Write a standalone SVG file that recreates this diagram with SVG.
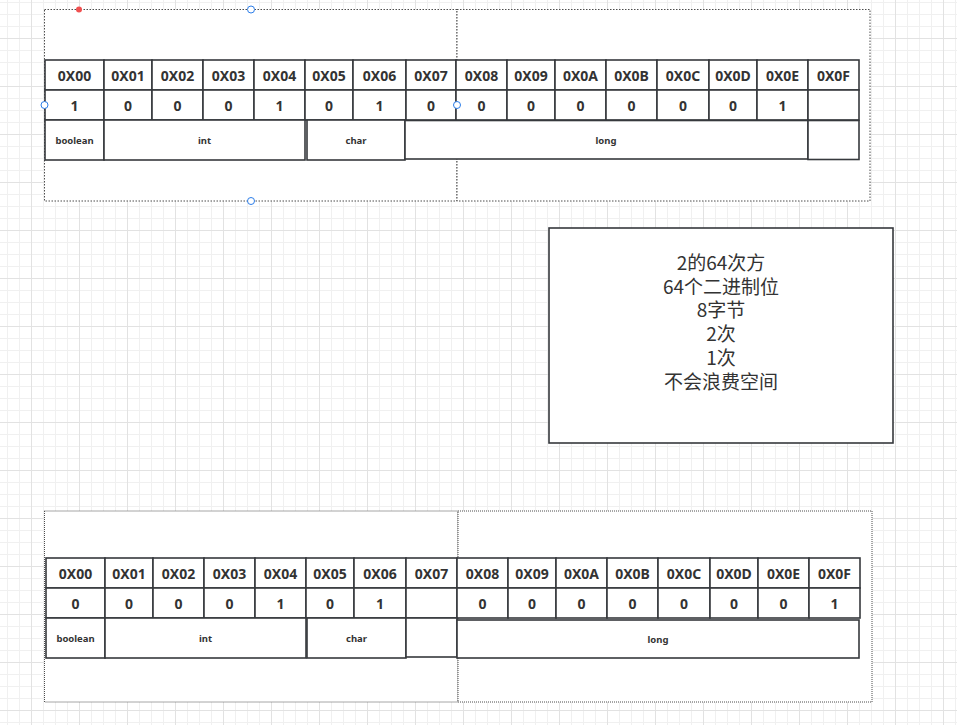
<svg xmlns="http://www.w3.org/2000/svg" width="957" height="725" viewBox="0 0 957 725">
<style>
.c{fill:#fff;stroke:#36393d;stroke-width:1.6}
.cont{fill:#fff;stroke:#4d4d4d;stroke-width:1;stroke-dasharray:1.5 1.5}
.cont2{fill:#fff;stroke:#4d4d4d;stroke-width:1;stroke-dasharray:1 1}
.h{font-family:"Noto Sans","Liberation Sans",sans-serif;font-weight:bold;font-size:14px;fill:#333;text-anchor:middle;dominant-baseline:central}
.t{font-family:"Noto Sans","Liberation Sans",sans-serif;font-weight:bold;font-size:9.5px;fill:#333;text-anchor:middle;dominant-baseline:central}
.n{font-family:"Noto Sans CJK SC","Noto Sans",sans-serif;font-size:19px;fill:#333;text-anchor:middle;dominant-baseline:central}
.hd{fill:#fff;stroke:#2b7de9;stroke-width:1}
</style>
<defs>
<pattern id="grid" patternUnits="userSpaceOnUse" x="31" y="38" width="48" height="48">
<rect x="0" y="0" width="48" height="48" fill="#fff"/>
<rect x="12" y="0" width="1" height="48" fill="#f0f0f0"/>
<rect x="24" y="0" width="1" height="48" fill="#f0f0f0"/>
<rect x="36" y="0" width="1" height="48" fill="#f0f0f0"/>
<rect x="0" y="12" width="48" height="1" fill="#f0f0f0"/>
<rect x="0" y="24" width="48" height="1" fill="#f0f0f0"/>
<rect x="0" y="36" width="48" height="1" fill="#f0f0f0"/>
<rect x="0" y="0" width="1" height="48" fill="#e2e2e2"/>
<rect x="0" y="0" width="48" height="1" fill="#e2e2e2"/>
</pattern>
</defs>
<rect x="0" y="0" width="957" height="725" fill="url(#grid)"/>

<g id="top-container-left"><rect class="cont" x="44.5" y="9.5" width="412.5" height="191.5"/></g>
<g id="top-container-right"><rect class="cont" x="457" y="9.5" width="413" height="191.5"/></g>
<g id="bottom-container-left"><rect class="cont2" x="44.5" y="511" width="413.5" height="191"/></g>
<g id="bottom-container-right"><rect class="cont2" x="458" y="511" width="414" height="191"/></g>

<g id="top-table">
<g id="t-h00"><rect class="c" x="45" y="60" width="59" height="30"/><text class="h" x="74.5" y="75">0X00</text></g>
<g id="t-h01"><rect class="c" x="104" y="60" width="48" height="30"/><text class="h" x="128" y="75">0X01</text></g>
<g id="t-h02"><rect class="c" x="152" y="60" width="51" height="30"/><text class="h" x="177.5" y="75">0X02</text></g>
<g id="t-h03"><rect class="c" x="203" y="60" width="51" height="30"/><text class="h" x="228.5" y="75">0X03</text></g>
<g id="t-h04"><rect class="c" x="254" y="60" width="51" height="30"/><text class="h" x="279.5" y="75">0X04</text></g>
<g id="t-h05"><rect class="c" x="305" y="60" width="48" height="30"/><text class="h" x="329" y="75">0X05</text></g>
<g id="t-h06"><rect class="c" x="353" y="60" width="53" height="30"/><text class="h" x="379.5" y="75">0X06</text></g>
<g id="t-h07"><rect class="c" x="406" y="60" width="50" height="30"/><text class="h" x="431" y="75">0X07</text></g>
<g id="t-h08"><rect class="c" x="456" y="60" width="51" height="30"/><text class="h" x="481.5" y="75">0X08</text></g>
<g id="t-h09"><rect class="c" x="507" y="60" width="48" height="30"/><text class="h" x="531" y="75">0X09</text></g>
<g id="t-h0A"><rect class="c" x="555" y="60" width="51" height="30"/><text class="h" x="580.5" y="75">0X0A</text></g>
<g id="t-h0B"><rect class="c" x="606" y="60" width="51" height="30"/><text class="h" x="631.5" y="75">0X0B</text></g>
<g id="t-h0C"><rect class="c" x="657" y="60" width="52" height="30"/><text class="h" x="683" y="75">0X0C</text></g>
<g id="t-h0D"><rect class="c" x="709" y="60" width="48" height="30"/><text class="h" x="733" y="75">0X0D</text></g>
<g id="t-h0E"><rect class="c" x="757" y="60" width="51" height="30"/><text class="h" x="782.5" y="75">0X0E</text></g>
<g id="t-h0F"><rect class="c" x="808" y="60" width="51" height="30"/><text class="h" x="833.5" y="75">0X0F</text></g>

<g id="t-v00"><rect class="c" x="45" y="90" width="59" height="30"/><text class="h" x="74.5" y="105">1</text></g>
<g id="t-v01"><rect class="c" x="104" y="90" width="48" height="30"/><text class="h" x="128" y="105">0</text></g>
<g id="t-v02"><rect class="c" x="152" y="90" width="51" height="30"/><text class="h" x="177.5" y="105">0</text></g>
<g id="t-v03"><rect class="c" x="203" y="90" width="51" height="30"/><text class="h" x="228.5" y="105">0</text></g>
<g id="t-v04"><rect class="c" x="254" y="90" width="51" height="30"/><text class="h" x="279.5" y="105">1</text></g>
<g id="t-v05"><rect class="c" x="305" y="90" width="48" height="30"/><text class="h" x="329" y="105">0</text></g>
<g id="t-v06"><rect class="c" x="353" y="90" width="53" height="30"/><text class="h" x="379.5" y="105">1</text></g>
<g id="t-v07"><rect class="c" x="406" y="90" width="50" height="30"/><text class="h" x="431" y="105">0</text></g>
<g id="t-v08"><rect class="c" x="456" y="90" width="51" height="30"/><text class="h" x="481.5" y="105">0</text></g>
<g id="t-v09"><rect class="c" x="507" y="90" width="48" height="30"/><text class="h" x="531" y="105">0</text></g>
<g id="t-v0A"><rect class="c" x="555" y="90" width="51" height="30"/><text class="h" x="580.5" y="105">0</text></g>
<g id="t-v0B"><rect class="c" x="606" y="90" width="51" height="30"/><text class="h" x="631.5" y="105">0</text></g>
<g id="t-v0C"><rect class="c" x="657" y="90" width="52" height="30"/><text class="h" x="683" y="105">0</text></g>
<g id="t-v0D"><rect class="c" x="709" y="90" width="48" height="30"/><text class="h" x="733" y="105">0</text></g>
<g id="t-v0E"><rect class="c" x="757" y="90" width="51" height="30"/><text class="h" x="782.5" y="105">1</text></g>
<g id="t-v0F"><rect class="c" x="808" y="90" width="51" height="30"/></g>

<g id="t-boolean"><rect class="c" x="45" y="120" width="59" height="40"/><text class="t" x="74.5" y="140">boolean</text></g>
<g id="t-int"><rect class="c" x="104" y="120" width="201" height="40"/><text class="t" x="204.5" y="140">int</text></g>
<g id="t-char"><rect class="c" x="307" y="120" width="98" height="40"/><text class="t" x="356" y="140">char</text></g>
<g id="t-long"><rect class="c" x="405" y="120.5" width="403" height="38.5"/><text class="t" x="606" y="140">long</text></g>
<g id="t-empty"><rect class="c" x="808" y="120.5" width="51" height="39"/></g>
</g>

<g id="bottom-table">
<g id="b-h00"><rect class="c" x="46" y="558" width="59" height="30"/><text class="h" x="75.5" y="573">0X00</text></g>
<g id="b-h01"><rect class="c" x="105" y="558" width="48" height="30"/><text class="h" x="129" y="573">0X01</text></g>
<g id="b-h02"><rect class="c" x="153" y="558" width="51" height="30"/><text class="h" x="178.5" y="573">0X02</text></g>
<g id="b-h03"><rect class="c" x="204" y="558" width="51" height="30"/><text class="h" x="229.5" y="573">0X03</text></g>
<g id="b-h04"><rect class="c" x="255" y="558" width="51" height="30"/><text class="h" x="280.5" y="573">0X04</text></g>
<g id="b-h05"><rect class="c" x="306" y="558" width="48" height="30"/><text class="h" x="330" y="573">0X05</text></g>
<g id="b-h06"><rect class="c" x="354" y="558" width="52" height="30"/><text class="h" x="380" y="573">0X06</text></g>
<g id="b-h07"><rect class="c" x="406" y="558" width="51" height="30"/><text class="h" x="431.5" y="573">0X07</text></g>
<g id="b-h08"><rect class="c" x="457" y="558" width="51" height="30"/><text class="h" x="482.5" y="573">0X08</text></g>
<g id="b-h09"><rect class="c" x="508" y="558" width="48" height="30"/><text class="h" x="532" y="573">0X09</text></g>
<g id="b-h0A"><rect class="c" x="556" y="558" width="51" height="30"/><text class="h" x="581.5" y="573">0X0A</text></g>
<g id="b-h0B"><rect class="c" x="607" y="558" width="51" height="30"/><text class="h" x="632.5" y="573">0X0B</text></g>
<g id="b-h0C"><rect class="c" x="658" y="558" width="52" height="30"/><text class="h" x="684" y="573">0X0C</text></g>
<g id="b-h0D"><rect class="c" x="710" y="558" width="48" height="30"/><text class="h" x="734" y="573">0X0D</text></g>
<g id="b-h0E"><rect class="c" x="758" y="558" width="51" height="30"/><text class="h" x="783.5" y="573">0X0E</text></g>
<g id="b-h0F"><rect class="c" x="809" y="558" width="51" height="30"/><text class="h" x="834.5" y="573">0X0F</text></g>

<g id="b-v00"><rect class="c" x="46" y="588" width="59" height="30"/><text class="h" x="75.5" y="603">0</text></g>
<g id="b-v01"><rect class="c" x="105" y="588" width="48" height="30"/><text class="h" x="129" y="603">0</text></g>
<g id="b-v02"><rect class="c" x="153" y="588" width="51" height="30"/><text class="h" x="178.5" y="603">0</text></g>
<g id="b-v03"><rect class="c" x="204" y="588" width="51" height="30"/><text class="h" x="229.5" y="603">0</text></g>
<g id="b-v04"><rect class="c" x="255" y="588" width="51" height="30"/><text class="h" x="280.5" y="603">1</text></g>
<g id="b-v05"><rect class="c" x="306" y="588" width="48" height="30"/><text class="h" x="330" y="603">0</text></g>
<g id="b-v06"><rect class="c" x="354" y="588" width="52" height="30"/><text class="h" x="380" y="603">1</text></g>
<g id="b-v07"><rect class="c" x="406" y="588" width="51" height="30"/></g>
<g id="b-v08"><rect class="c" x="457" y="588" width="51" height="30"/><text class="h" x="482.5" y="603">0</text></g>
<g id="b-v09"><rect class="c" x="508" y="588" width="48" height="30"/><text class="h" x="532" y="603">0</text></g>
<g id="b-v0A"><rect class="c" x="556" y="588" width="51" height="30"/><text class="h" x="581.5" y="603">0</text></g>
<g id="b-v0B"><rect class="c" x="607" y="588" width="51" height="30"/><text class="h" x="632.5" y="603">0</text></g>
<g id="b-v0C"><rect class="c" x="658" y="588" width="52" height="30"/><text class="h" x="684" y="603">0</text></g>
<g id="b-v0D"><rect class="c" x="710" y="588" width="48" height="30"/><text class="h" x="734" y="603">0</text></g>
<g id="b-v0E"><rect class="c" x="758" y="588" width="51" height="30"/><text class="h" x="783.5" y="603">0</text></g>
<g id="b-v0F"><rect class="c" x="809" y="588" width="51" height="30"/><text class="h" x="834.5" y="603">1</text></g>

<g id="b-boolean"><rect class="c" x="46" y="618" width="59" height="40"/><text class="t" x="75.5" y="638">boolean</text></g>
<g id="b-int"><rect class="c" x="105" y="618" width="201" height="40"/><text class="t" x="205.5" y="638">int</text></g>
<g id="b-char"><rect class="c" x="307" y="618" width="99" height="40"/><text class="t" x="356.5" y="638">char</text></g>
<g id="b-empty"><rect class="c" x="406" y="618" width="51" height="39"/></g>
<g id="b-long"><rect class="c" x="457" y="620" width="402" height="38"/><text class="t" x="658" y="639">long</text></g>
</g>

<g id="note">
<rect class="c" x="549" y="228" width="344" height="215"/>
<text class="n" x="721" y="261">2的64次方</text>
<text class="n" x="721" y="285">64个二进制位</text>
<text class="n" x="721" y="308">8字节</text>
<text class="n" x="721" y="332">2次</text>
<text class="n" x="721" y="356">1次</text>
<text class="n" x="721" y="380">不会浪费空间</text>
</g>

<g id="connectors"></g>

<g id="selection-handles">
<circle cx="79" cy="9.5" r="3" fill="#f05050"/>
<circle class="hd" cx="251" cy="9.5" r="3.5"/>
<circle class="hd" cx="251" cy="201" r="3.5"/>
<circle class="hd" cx="44.5" cy="105" r="3.5"/>
<circle class="hd" cx="457" cy="105" r="3.5"/>
</g>
</svg>
